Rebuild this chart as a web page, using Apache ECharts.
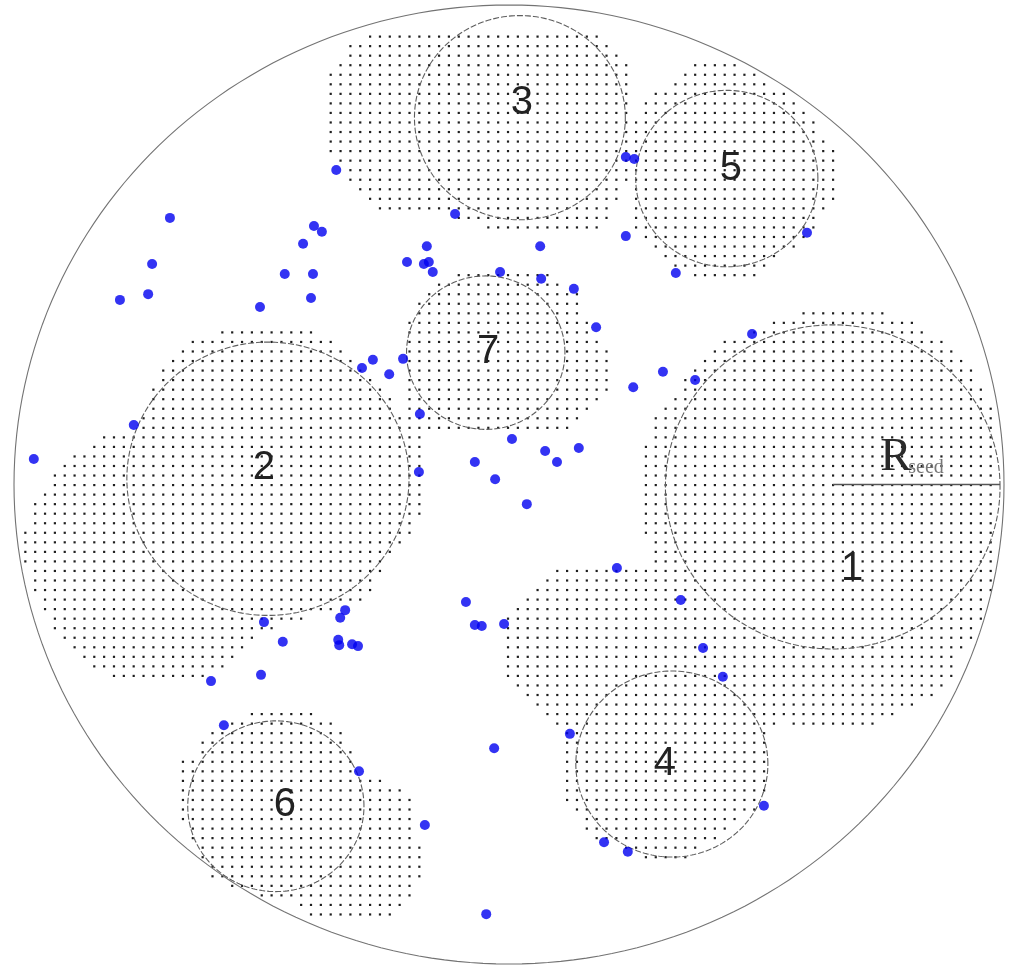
<!DOCTYPE html>
<html>
<head>
<meta charset="utf-8">
<script src="https://cdn.jsdelivr.net/npm/echarts@6/dist/echarts.min.js"></script>
<style>
  html, body { margin: 0; padding: 0; background: #ffffff; }
  #chart { width: 1013px; height: 966px; }
</style>
</head>
<body>
<div id="chart"></div>
<script>
// Domain: a disk of radius 100 centred on the origin.
const domainRadius = 100;

// Seed circles (centre and radius, domain units) and where each number sits.
const seedIds      = ['1', '2', '3', '4', '5', '6', '7'];
const seedCenterX  = [65.4, -48.7, 2.2, 32.9, 44.0, -47.1, -4.7];
const seedCenterY  = [-0.5, 1.2, 76.5, -58.3, 63.8, -67.1, 27.5];
const seedRadius   = [33.8, 28.5, 21.3, 19.4, 18.4, 17.8, 16.0];
const seedLabelX   = [69.3, -49.5, 2.6, 31.5, 44.8, -45.3, -4.2];
const seedLabelY   = [-17.6, 3.4, 79.6, -58.3, 65.8, -66.8, 27.6];

// Seed radius annotation (seed 1), anchored at the start of the text.
const radiusLabelAnchor = [75.0, 5.5];

// Free particles.
const particles = [
  [-34.9, 65.6], [-68.5, 55.6], [-72.1, 46.0], [-78.6, 38.5], [-72.9, 39.7],
  [-50.3, 37.0], [-45.3, 43.9], [-41.6, 50.2], [-39.4, 53.9], [-37.8, 52.7],
  [-39.6, 43.9], [-40.0, 38.9], [-10.9, 56.4], [-20.6, 46.4], [-16.6, 49.7],
  [-17.2, 46.0], [-16.2, 46.4], [-15.4, 44.3], [-1.8, 44.3], [6.5, 42.9],
  [6.3, 49.7], [13.1, 40.8], [17.6, 32.8], [23.6, 68.3], [25.3, 67.9],
  [23.6, 51.8], [33.7, 44.1], [60.2, 52.5], [49.1, 31.4], [37.6, 21.8],
  [31.1, 23.5], [25.1, 20.3], [-29.7, 24.3], [-27.5, 26.0], [-24.2, 23.0],
  [-21.4, 26.2], [-18.0, 14.7], [-75.8, 12.4], [-96.0, 5.3], [-18.2, 2.6],
  [-6.9, 4.7], [-2.8, 1.1], [0.6, 9.5], [7.3, 7.0], [9.7, 4.7],
  [14.1, 7.6], [3.6, -4.1], [21.8, -17.4], [34.7, -24.1], [-8.7, -24.5],
  [-6.9, -29.3], [-5.5, -29.5], [-1.0, -29.1], [-33.1, -26.2], [-34.1, -27.8],
  [-34.5, -32.4], [-34.3, -33.5], [-31.7, -33.3], [-30.5, -33.7], [-49.5, -28.7],
  [-45.7, -32.8], [-50.1, -39.7], [-60.2, -41.0], [39.2, -34.1], [43.2, -40.1],
  [12.3, -52.0], [-3.0, -55.0], [-57.6, -50.2], [-30.3, -59.8], [-17.0, -71.0],
  [51.5, -67.0], [19.2, -74.6], [24.0, -76.6], [-4.6, -89.6]
];

// Outlines of the stippled capture zones (domain units).
const zoneSeeds1and4 = [
  [59.4, 35.8], [75.6, 35.8], [81.6, 33.7], [87.5, 29.7], [91.5, 25.8], [95.2, 21.8],
  [97.2, 17.8], [99.2, 9.3], [99.2, -15.7], [96.2, -26.2], [93.7, -31.8], [89.7, -36.0],
  [89.7, -40.1], [87.7, -41.8], [83.6, -45.6], [79.6, -47.7], [75.6, -49.7], [69.5, -51.8],
  [61.4, -51.8], [55.4, -49.7], [52.1, -51.8], [52.1, -65.2], [50.1, -67.3], [48.1, -69.3],
  [42.0, -73.5], [38.6, -75.6], [36.0, -79.4], [31.1, -79.4], [25.9, -77.3], [21.8, -75.6],
  [16.4, -73.5], [13.7, -69.3], [11.7, -67.3], [11.7, -51.8], [7.7, -49.7], [5.7, -47.7],
  [3.6, -43.9], [1.6, -41.8], [-0.4, -40.1], [-0.4, -27.8], [1.6, -25.8], [3.6, -23.7],
  [5.7, -22.0], [7.7, -19.9], [9.7, -17.8], [27.9, -17.8], [29.5, -16.4], [29.5, -13.7],
  [27.5, -11.6], [27.5, 7.8], [29.5, 13.9], [31.5, 16.0], [33.1, 17.8], [35.2, 21.8],
  [37.6, 23.9], [39.2, 25.8], [41.2, 27.6], [43.2, 29.7], [49.3, 31.8], [53.3, 33.7]
];
const zoneSeed2 = [
  [-56.4, 33.7], [-43.6, 33.7], [-39.6, 31.6], [-35.6, 29.7], [-33.7, 27.6], [-30.1, 23.9],
  [-26.1, 20.1], [-22.0, 15.5], [-18.0, 11.4], [-18.0, -7.4], [-20.0, -11.6], [-24.0, -15.7],
  [-26.1, -19.9], [-29.7, -24.1], [-39.6, -27.6], [-51.7, -31.8], [-53.7, -33.9], [-57.0, -38.1],
  [-64.4, -41.8], [-78.0, -41.8], [-84.0, -38.1], [-88.1, -33.9], [-92.1, -29.7], [-95.8, -22.0],
  [-97.8, -17.8], [-97.8, -9.5], [-95.8, -3.6], [-92.1, 2.0], [-88.1, 5.7], [-82.0, 9.9],
  [-76.0, 11.4], [-73.9, 15.5], [-71.9, 20.1], [-69.9, 23.9], [-66.1, 27.6], [-64.0, 29.7],
  [-60.0, 31.6]
];
const zoneSeed3 = [
  [-28.1, 93.5], [17.8, 93.5], [19.8, 91.4], [21.8, 89.4], [24.8, 86.4], [24.8, 69.8],
  [23.4, 61.4], [20.8, 56.2], [18.4, 53.5], [-5.9, 53.5], [-7.9, 55.2], [-26.1, 57.2],
  [-28.1, 59.3], [-30.1, 61.4], [-32.1, 63.5], [-34.1, 66.6], [-36.2, 69.8], [-36.2, 85.4],
  [-34.1, 87.5], [-32.1, 89.4], [-32.1, 91.4]
];
const zoneSeed5 = [
  [37.6, 87.5], [45.7, 87.5], [49.7, 85.4], [55.4, 81.6], [59.4, 78.1], [63.4, 73.5],
  [65.5, 69.8], [65.5, 58.3], [63.4, 56.2], [60.8, 51.0], [53.7, 46.8], [47.7, 42.0],
  [39.6, 42.0], [31.5, 45.8], [27.5, 49.9], [25.5, 53.1], [25.5, 75.6], [27.5, 79.6],
  [31.5, 83.3]
];
const zoneSeed6 = [
  [-51.9, -47.7], [-39.8, -47.7], [-35.6, -49.7], [-33.7, -51.8], [-31.7, -55.8], [-31.7, -59.8],
  [-26.1, -61.6], [-22.0, -63.5], [-20.0, -65.6], [-18.0, -75.2], [-18.0, -83.1], [-20.0, -85.2],
  [-20.0, -87.3], [-22.0, -89.2], [-26.1, -91.2], [-38.2, -91.2], [-42.2, -89.2], [-44.2, -87.3],
  [-51.7, -85.2], [-59.8, -83.1], [-61.8, -79.4], [-63.8, -75.2], [-65.9, -71.4], [-65.9, -57.5],
  [-63.8, -55.8], [-61.8, -51.8], [-56.8, -49.7]
];
const zoneSeed7 = [
  [-10.3, 43.7], [7.7, 43.7], [10.3, 42.0], [13.7, 39.9], [15.8, 33.9], [19.8, 28.0],
  [19.8, 19.7], [17.8, 16.0], [15.8, 13.9], [13.7, 12.0], [7.7, 9.9], [-10.3, 9.9],
  [-13.9, 11.4], [-18.0, 9.3], [-22.0, 8.2], [-22.0, 15.5], [-20.4, 19.7], [-20.4, 33.9],
  [-18.4, 38.5], [-16.4, 39.9], [-13.9, 42.0]
];

const zones = [zoneSeeds1and4, zoneSeed2, zoneSeed3, zoneSeed5, zoneSeed6, zoneSeed7];

// Stipple lattice used to shade the capture zones.
const LATTICE_STEP = 1.99;
const LATTICE_X0 = 59.5;
const LATTICE_Y0 = 35.7;

function insidePolygon(x, y, poly) {
  let inside = false;
  for (let i = 0, j = poly.length - 1; i < poly.length; j = i++) {
    const xi = poly[i][0], yi = poly[i][1], xj = poly[j][0], yj = poly[j][1];
    if ((yi > y) !== (yj > y) && x < (xj - xi) * (y - yi) / (yj - yi) + xi) inside = !inside;
  }
  return inside;
}

const stipple = [];
{
  const iMin = Math.ceil((-domainRadius - LATTICE_X0) / LATTICE_STEP);
  const iMax = Math.floor((domainRadius - LATTICE_X0) / LATTICE_STEP);
  const jMin = Math.ceil((-domainRadius - LATTICE_Y0) / LATTICE_STEP);
  const jMax = Math.floor((domainRadius - LATTICE_Y0) / LATTICE_STEP);
  for (let i = iMin; i <= iMax; i++) {
    const x = LATTICE_X0 + i * LATTICE_STEP;
    for (let j = jMin; j <= jMax; j++) {
      const y = LATTICE_Y0 + j * LATTICE_STEP;
      if (zones.some(z => insidePolygon(x, y, z))) stipple.push([x, y]);
    }
  }
}

// Circle outlines: the domain first, then the seeds.
const circleRows = [[0, 0, domainRadius, 0]].concat(
  seedIds.map((id, k) => [seedCenterX[k], seedCenterY[k], seedRadius[k], 1])
);

function renderCircle(params, api) {
  const cx = api.value(0), cy = api.value(1), r = api.value(2), isSeed = api.value(3) === 1;
  const pts = [];
  const n = 240;
  for (let k = 0; k <= n; k++) {
    const a = (k / n) * Math.PI * 2;
    pts.push(api.coord([cx + r * Math.cos(a), cy + r * Math.sin(a)]));
  }
  return {
    type: 'polyline',
    shape: { points: pts },
    style: isSeed
      ? { stroke: '#5e5e5e', lineWidth: 1.1, lineDash: [6, 2], fill: null }
      : { stroke: '#737373', lineWidth: 1.1, fill: null }
  };
}

const labelRows = seedIds.map((id, k) => [seedLabelX[k], seedLabelY[k], id]);

function renderSeedLabel(params, api) {
  const p = api.coord([api.value(0), api.value(1)]);
  return {
    type: 'text',
    x: p[0], y: p[1],
    style: {
      text: seedIds[params.dataIndex],
      font: 'normal 40px "Liberation Sans", Arial, sans-serif',
      fill: '#222222',
      align: 'center',
      verticalAlign: 'middle'
    }
  };
}

function renderRadiusLabel(params, api) {
  const p = api.coord([api.value(0), api.value(1)]);
  return {
    type: 'group',
    children: [
      {
        type: 'text', x: p[0], y: p[1],
        style: { text: 'R', font: 'normal 47px "Liberation Serif", serif', fill: '#2a2a2a',
                 align: 'left', verticalAlign: 'middle' }
      },
      {
        type: 'text', x: p[0] + 28, y: p[1] + 10,
        style: { text: 'seed', font: 'normal 20px "Liberation Serif", serif', fill: '#777777',
                 align: 'left', verticalAlign: 'middle' }
      }
    ]
  };
}

const chart = echarts.init(document.getElementById('chart'), null, { renderer: 'canvas' });
chart.setOption({
  animation: false,
  backgroundColor: '#ffffff',
  grid: { left: 14, top: 5, width: 990, height: 959 },
  xAxis: { type: 'value', min: -domainRadius, max: domainRadius, show: false },
  yAxis: { type: 'value', min: -domainRadius, max: domainRadius, show: false },
  series: [
    {
      name: 'capture zones',
      type: 'scatter',
      data: stipple,
      symbol: 'rect',
      symbolSize: 2.2,
      silent: true,
      itemStyle: { color: '#1e1e1e', opacity: 1 },
      z: 1
    },
    {
      name: 'circles',
      type: 'custom',
      data: circleRows,
      renderItem: renderCircle,
      silent: true,
      clip: false,
      z: 2
    },
    {
      name: 'seed radius',
      type: 'line',
      data: [[seedCenterX[0], 0], [seedCenterX[0] + seedRadius[0], 0]],
      symbol: 'none',
      silent: true,
      lineStyle: { color: '#555555', width: 1.6 },
      z: 3
    },
    {
      name: 'seed labels',
      type: 'custom',
      data: labelRows,
      renderItem: renderSeedLabel,
      silent: true,
      z: 4
    },
    {
      name: 'radius label',
      type: 'custom',
      data: [radiusLabelAnchor],
      renderItem: renderRadiusLabel,
      silent: true,
      z: 4
    },
    {
      name: 'particles',
      type: 'scatter',
      data: particles,
      symbol: 'circle',
      symbolSize: 10,
      silent: true,
      itemStyle: { color: '#0000f0' },
      z: 5
    }
  ]
});
</script>
</body>
</html>
